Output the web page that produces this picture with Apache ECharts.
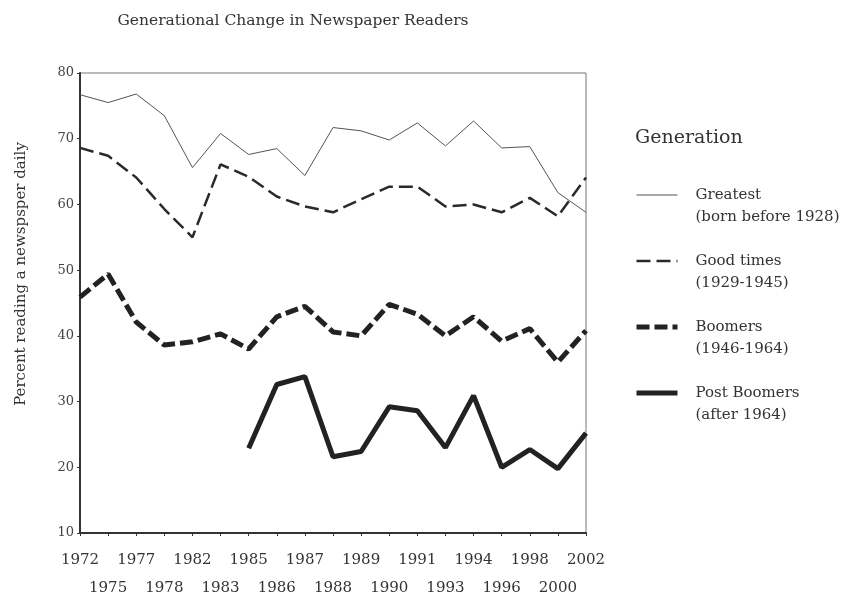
<!DOCTYPE html>
<html>
<head>
<meta charset="utf-8">
<script src="https://cdn.jsdelivr.net/npm/echarts@6/dist/echarts.min.js"></script>
<style>
    html, body { margin: 0; padding: 0; background: #fff; }
    #chart { width: 852px; height: 602px; }
</style>
</head>
<body>
<div id="chart"></div>
<script>
    // years on the x axis
    var years = ['1972', '1975', '1977', '1978', '1982', '1983', '1985', '1986', '1987', '1988',
        '1989', '1990', '1991', '1993', '1994', '1996', '1998', '2000', '2002'];

    // percent reading a newspaper daily, per generation
    var greatest = [76.7, 75.5, 76.8, 73.5, 65.6, 70.8, 67.6, 68.5, 64.4, 71.7,
        71.2, 69.8, 72.4, 68.9, 72.7, 68.6, 68.8, 61.8, 58.8];
    var goodTimes = [68.6, 67.4, 64.1, 59.3, 55.0, 66.1, 64.2, 61.2, 59.7, 58.8,
        60.8, 62.7, 62.7, 59.7, 60.0, 58.8, 61.0, 58.2, 64.1];
    var boomers = [45.9, 49.4, 42.1, 38.6, 39.1, 40.3, 38.0, 42.9, 44.5, 40.6,
        40.0, 44.8, 43.3, 40.0, 42.9, 39.2, 41.1, 36.0, 40.8];
    var postBoomers = [null, null, null, null, null, null, 22.9, 32.6, 33.8, 21.6,
        22.4, 29.2, 28.6, 23.0, 30.9, 20.0, 22.7, 19.8, 25.2];

    var seriesNames = ['Greatest', 'Good times', 'Boomers', 'Post Boomers'];
    var seriesNotes = ['(born before 1928)', '(1929-1945)', '(1946-1964)', '(after 1964)'];
    var lineWidths = [1, 2.5, 5, 5];

    var serif = 'DejaVu Serif';
    var ink = '#333';

    // legend entries, so the icons keep the real line widths
    var legendData = [];
    for (var i = 0; i < seriesNames.length; i++) {
        legendData.push({name: seriesNames[i], lineStyle: {width: lineWidths[i]}});
    }

    var chart = echarts.init(document.getElementById('chart'));

    chart.setOption({
        animation: false,
        backgroundColor: '#fff',
        title: [
            {
                text: 'Generational Change in Newspaper Readers',
                left: 288,
                top: 8,
                textAlign: 'center',
                textStyle: {fontFamily: serif, fontSize: 15.5, fontWeight: 'normal', color: ink}
            },
            {
                text: 'Generation',
                left: 630,
                top: 124,
                textStyle: {fontFamily: serif, fontSize: 19, fontWeight: 'normal', color: ink}
            }
        ],
        legend: {
            orient: 'vertical',
            left: 629,
            top: 157,
            itemWidth: 41,
            itemHeight: 14,
            itemGap: 0,
            data: legendData,
            itemStyle: {opacity: 0},
            formatter: function (name) {
                // empty first line keeps the icon level with the name
                var i = seriesNames.indexOf(name);
                return '\n' + name + '\n' + seriesNotes[i];
            },
            textStyle: {
                fontFamily: serif,
                fontSize: 15,
                lineHeight: 22,
                color: ink,
                padding: [0, 0, 0, 13]
            }
        },
        grid: {
            left: 80,
            right: 266,
            top: 73,
            bottom: 67,
            show: true,
            borderColor: '#777',
            borderWidth: 1
        },
        xAxis: {
            type: 'category',
            data: years,
            boundaryGap: false,
            axisLine: {lineStyle: {color: ink, width: 2}},
            axisTick: {show: true, interval: 0, length: 3, lineStyle: {color: ink}},
            axisLabel: {
                interval: 0,
                margin: 13,
                fontFamily: serif,
                fontSize: 15,
                lineHeight: 28,
                color: ink,
                formatter: function (value, index) {
                    return index % 2 ? '\n' + value : value;
                }
            },
            splitLine: {show: false}
        },
        yAxis: {
            type: 'value',
            min: 10,
            max: 80,
            interval: 10,
            name: 'Percent reading a newspsper daily',
            nameLocation: 'middle',
            nameGap: 51,
            nameTextStyle: {fontFamily: serif, fontSize: 15, color: ink, padding: [0, 0, 0, 58]},
            axisLine: {show: true, lineStyle: {color: ink, width: 2}},
            axisTick: {show: true, length: 3, lineStyle: {color: ink}},
            axisLabel: {fontFamily: serif, fontSize: 13, color: '#444', margin: 6},
            splitLine: {show: false}
        },
        series: [
            {
                name: seriesNames[0],
                type: 'line',
                data: greatest,
                symbol: 'none',
                color: '#555',
                lineStyle: {color: '#555', width: lineWidths[0]}
            },
            {
                name: seriesNames[1],
                type: 'line',
                data: goodTimes,
                symbol: 'none',
                color: '#2a2a2a',
                lineStyle: {color: '#2a2a2a', width: lineWidths[1], type: [14, 6]}
            },
            {
                name: seriesNames[2],
                type: 'line',
                data: boomers,
                symbol: 'none',
                color: '#222',
                lineStyle: {color: '#222', width: lineWidths[2], type: [13, 5]}
            },
            {
                name: seriesNames[3],
                type: 'line',
                data: postBoomers,
                symbol: 'none',
                color: '#222',
                lineStyle: {color: '#222', width: lineWidths[3]}
            }
        ]
    });
</script>
</body>
</html>
